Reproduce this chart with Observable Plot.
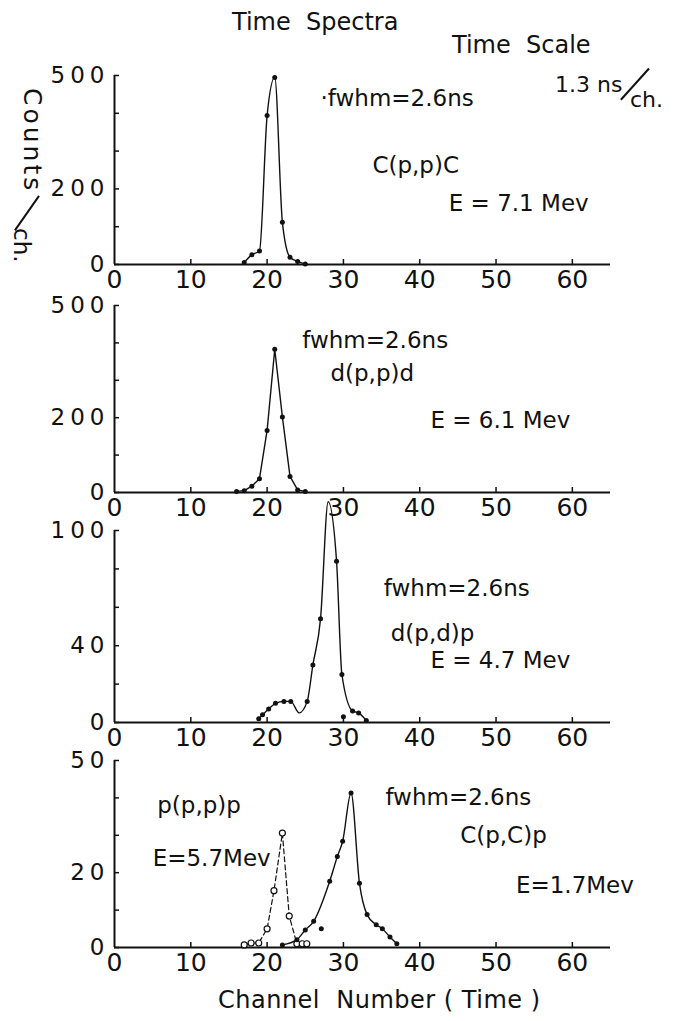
<!DOCTYPE html>
<html><head><meta charset="utf-8">
<script src="https://cdn.jsdelivr.net/npm/d3@7"></script>
<script src="https://cdn.jsdelivr.net/npm/@observablehq/plot@0.6"></script>
<style>
body{margin:0;background:#fff;}
#wrap{position:relative;width:689px;height:1021px;font-family:"DejaVu Sans",sans-serif;color:#111;overflow:hidden;background:#fff}
.abs{position:absolute;white-space:nowrap;line-height:1}
.rot{transform-origin:0 0;transform:rotate(90deg)}
.slash{position:absolute;width:1.6px;background:#111}
#wrap svg{overflow:visible;position:absolute;left:0}
#wrap svg [aria-label="y-axis tick label"] text{letter-spacing:5px}
</style></head><body><div id="wrap"></div>
<script>
// ---------------- data ----------------
const xTicks = [0, 10, 20, 30, 40, 50, 60];

// Panel 1: C(p,p)C, E = 7.1 MeV
const p1Channel = [17, 18, 19, 20, 21, 22, 23, 24, 25];
const p1Counts  = [5, 26, 36, 394, 495, 112, 19, 8, 1];
const p1YTicks = [0, 100, 200, 300, 400, 500];
const p1YLabels = [0, 200, 500];

// Panel 2: d(p,p)d, E = 6.1 MeV
const p2Channel = [16, 17, 18, 19, 20, 21, 22, 23, 24, 25];
const p2Counts  = [3, 5, 17, 37, 166, 383, 202, 43, 7, 3];
const p2YTicks = [0, 100, 200, 300, 400, 500];
const p2YLabels = [0, 200, 500];

// Panel 3: d(p,d)p, E = 4.7 MeV  (onLine / dot flags)
const p3Channel = [18.9, 19.4, 20.2, 21.1, 22.2, 23.1, 24.2, 25.25, 26, 27, 28, 29.1, 29.8, 30, 31.2, 32, 33];
const p3Counts  = [2, 4, 7, 10, 11, 11, 5, 11, 30, 54, 115, 84, 25, 3, 6, 5, 1];
const p3OnLine  = [1, 1, 1, 1, 1, 1, 1, 1, 1, 1, 1, 1, 1, 0, 1, 1, 1];
const p3Dot     = [1, 1, 1, 1, 1, 1, 0, 1, 1, 1, 0, 1, 1, 1, 1, 1, 1];
const p3YTicks = [0, 20, 40, 60, 80, 100];
const p3YLabels = [0, 40, 100];

// Panel 4a: C(p,C)p, E = 1.7 MeV (filled dots, solid line)
const p4cChannel = [22, 23.9, 25, 26.1, 27.1, 28.2, 29.2, 29.9, 31, 32.1, 33.1, 34.3, 35.1, 36.1, 37];
const p4cCounts  = [0.7, 2.1, 4.7, 7, 5, 17.7, 24.3, 28.4, 41.3, 17.2, 8.8, 6.1, 5, 2.8, 1];
const p4cOnLine  = [1, 1, 1, 1, 0, 1, 1, 1, 1, 1, 1, 1, 1, 1, 1];
// Panel 4b: p(p,p)p, E = 5.7 MeV (open circles, dashed line)
const p4pChannel = [17, 17.9, 18.9, 20, 20.9, 22, 22.9, 23.9, 24.6, 25.2];
const p4pCounts  = [0.7, 1.2, 1.2, 5, 15.2, 30.6, 8.4, 1, 1, 1];
const p4YTicks = [0, 10, 20, 30, 40, 50];
const p4YLabels = [0, 20, 50];

// ---------------- layout ----------------
const ink = "#111";
const FONT = "DejaVu Sans, sans-serif";
const wrap = document.getElementById("wrap");

function rows(ch, ct, extra = {}) {
  return ch.map((c, i) => {
    const r = {ch: c, n: ct[i]};
    for (const k in extra) r[k] = extra[k][i];
    return r;
  });
}

function panel({top, mt, plotH, mb, yMax, yTicks, yLabels, marks, notes}) {
  const svg = Plot.plot({
    width: 689, height: mt + plotH + mb,
    marginLeft: 114, marginRight: 79, marginTop: mt, marginBottom: mb,
    style: {fontFamily: FONT, fontSize: "22px", color: ink, background: "transparent", overflow: "visible"},
    x: {domain: [0, 65], label: null},
    y: {domain: [0, yMax], label: null},
    marks: [
      Plot.axisY({ticks: yTicks, tickSize: -5, tickFormat: () => "", strokeWidth: 1.5}),
      Plot.axisY({ticks: yLabels, tickSize: 0, tickPadding: 5, fontSize: 23}),
      Plot.axisX({ticks: xTicks.slice(1), tickSize: -5, tickFormat: () => "", strokeWidth: 1.5}),
      Plot.axisX({ticks: xTicks, tickSize: 0, tickPadding: 6, fontSize: 25}),
      Plot.ruleX([0], {y1: 0, y2: yMax, stroke: ink, strokeWidth: 2}),
      Plot.ruleY([0], {stroke: ink, strokeWidth: 2}),
      ...marks,
      Plot.text(notes, {x: "x", y: "y", text: "t", textAnchor: "start", fontSize: 23, fill: ink})
    ]
  });
  svg.style.top = (top) + "px";
  wrap.appendChild(svg);
}

// Panel 1
const d1 = rows(p1Channel, p1Counts);
panel({top: 55, mt: 20, plotH: 189, mb: 35, yMax: 500, yTicks: p1YTicks, yLabels: p1YLabels,
  marks: [
    Plot.line(d1, {x: "ch", y: "n", curve: "monotone-x", stroke: ink, strokeWidth: 1.4}),
    Plot.dot(d1, {x: "ch", y: "n", r: 2.5, fill: ink})
  ],
  notes: [
    {x: 27.0, y: 439, t: "·fwhm=2.6ns"},
    {x: 33.8, y: 262, t: "C(p,p)C"},
    {x: 43.8, y: 161, t: "E = 7.1 Mev"}
  ]});

// Panel 2
const d2 = rows(p2Channel, p2Counts);
panel({top: 285, mt: 20, plotH: 187, mb: 32, yMax: 500, yTicks: p2YTicks, yLabels: p2YLabels,
  marks: [
    Plot.line(d2, {x: "ch", y: "n", stroke: ink, strokeWidth: 1.4}),
    Plot.dot(d2, {x: "ch", y: "n", r: 2.5, fill: ink})
  ],
  notes: [
    {x: 24.6, y: 406, t: "fwhm=2.6ns"},
    {x: 28.3, y: 318, t: "d(p,p)d"},
    {x: 41.4, y: 193, t: "E = 6.1 Mev"}
  ]});

// Panel 3
const d3 = rows(p3Channel, p3Counts, {line: p3OnLine, dot: p3Dot});
panel({top: 510, mt: 20, plotH: 192, mb: 32, yMax: 100, yTicks: p3YTicks, yLabels: p3YLabels,
  marks: [
    Plot.line(d3.filter(d => d.line), {x: "ch", y: "n", curve: "monotone-x", stroke: ink, strokeWidth: 1.4}),
    Plot.dot(d3.filter(d => d.dot), {x: "ch", y: "n", r: 2.5, fill: ink})
  ],
  notes: [
    {x: 35.3, y: 69.6, t: "fwhm=2.6ns"},
    {x: 36.2, y: 46.2, t: "d(p,d)p"},
    {x: 41.4, y: 32.2, t: "E = 4.7 Mev"}
  ]});

// Panel 4
const d4c = rows(p4cChannel, p4cCounts, {line: p4cOnLine});
const d4p = rows(p4pChannel, p4pCounts);
panel({top: 740, mt: 20, plotH: 187, mb: 32, yMax: 50, yTicks: p4YTicks, yLabels: p4YLabels,
  marks: [
    Plot.line(d4p, {x: "ch", y: "n", stroke: ink, strokeWidth: 1.2, strokeDasharray: "5,3"}),
    Plot.dot(d4p, {x: "ch", y: "n", r: 3, stroke: ink, strokeWidth: 1.2, fill: "white"}),
    Plot.line(d4c.filter(d => d.line), {x: "ch", y: "n", curve: "monotone-x", stroke: ink, strokeWidth: 1.4}),
    Plot.dot(d4c, {x: "ch", y: "n", r: 2.5, fill: ink})
  ],
  notes: [
    {x: 5.6, y: 38, t: "p(p,p)p"},
    {x: 5.0, y: 23.8, t: "E=5.7Mev"},
    {x: 35.5, y: 40.1, t: "fwhm=2.6ns"},
    {x: 45.3, y: 29.9, t: "C(p,C)p"},
    {x: 52.6, y: 16.6, t: "E=1.7Mev"}
  ]});

// ---------------- titles ----------------
function addText(html, left, top, size, extra = "", cls = "") {
  const d = document.createElement("div");
  d.className = "abs " + cls;
  d.style.cssText += `left:${left}px;top:${top}px;font-size:${size}px;${extra}`;
  d.innerHTML = html;
  wrap.appendChild(d);
  return d;
}
function addSlash(left, top, h, deg) {
  const d = document.createElement("div");
  d.className = "slash";
  d.style.cssText += `left:${left}px;top:${top}px;height:${h}px;transform:rotate(${deg}deg)`;
  wrap.appendChild(d);
}
addText("Time&nbsp; Spectra", 232, 10, 24);
addText("Time&nbsp; Scale", 452, 33, 24);
// "1.3 ns/ch."
addText("1.3 ns", 555, 74, 22);
addSlash(634, 63, 42, 42);
addText("ch.", 630, 89, 22);
// "Counts/ch." (rotated)
addText("Counts", 45, 88, 25, "letter-spacing:3px", "rot");
addSlash(26, 192, 42, 35);
addText("ch.", 33, 228, 23, "", "rot");
addText("Channel&nbsp; Number ( Time )", 218, 988, 24, "letter-spacing:0.5px");
</script></body></html>
